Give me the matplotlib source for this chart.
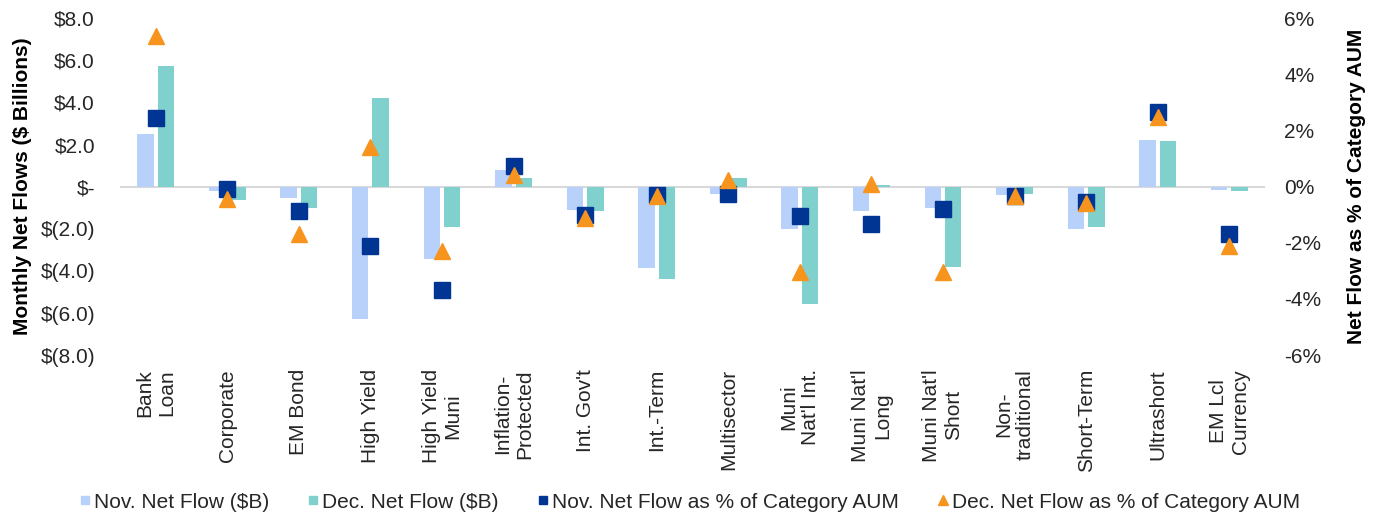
import numpy as np
import matplotlib.pyplot as plt
from matplotlib.lines import Line2D

plt.rcParams['font.family'] = ['Liberation Sans', 'DejaVu Sans']

# Categories and values
categories = ["Bank\nLoan", "Corporate", "EM Bond", "High Yield", "High Yield\nMuni",
              "Inflation-\nProtected", "Int. Gov't", "Int.-Term", "Multisector",
              "Muni\nNat'l Int.", "Muni Nat'l\nLong", "Muni Nat'l\nShort",
              "Non-\ntraditional", "Short-Term", "Ultrashort", "EM Lcl\nCurrency"]
nov_flow = [2.5, -0.22, -0.52, -6.27, -3.42, 0.8, -1.12, -3.85, -0.33, -2.0,
            -1.18, -1.0, -0.38, -2.0, 2.2, -0.15]
dec_flow = [5.73, -0.63, -1.0, 4.2, -1.9, 0.43, -1.18, -4.4, 0.43, -5.55,
            0.08, -3.8, -0.33, -1.93, 2.15, -0.22]
nov_pct = [2.46, -0.1, -0.85, -2.1, -3.67, 0.72, -1.02, -0.3, -0.25, -1.03,
           -1.32, -0.8, -0.35, -0.55, 2.65, -1.67]
dec_pct = [5.37, -0.43, -1.68, 1.4, -2.3, 0.4, -1.12, -0.35, 0.25, -3.05,
           0.1, -3.05, -0.35, -0.6, 2.48, -2.13]

left_ticks = [8, 6, 4, 2, 0, -2, -4, -6, -8]
left_labels = ["$8.0", "$6.0", "$4.0", "$2.0", "$-", "$(2.0)", "$(4.0)", "$(6.0)", "$(8.0)"]
right_ticks = [6, 4, 2, 0, -2, -4, -6]
right_labels = ["6%", "4%", "2%", "0%", "-2%", "-4%", "-6%"]

c_nov = "#B8D1FB"
c_dec = "#80D0CD"
c_sq = "#003594"
c_tri = "#F7941D"

fig = plt.figure(figsize=(13.74, 5.17), dpi=100)
ax = fig.add_axes([0.0873, 0.313, 0.8334, 0.652])
x = np.arange(len(categories))
w = 0.23
ax.bar(x - 0.143, nov_flow, w, color=c_nov, zorder=2)
ax.bar(x + 0.143, dec_flow, w, color=c_dec, zorder=2)
ax.axhline(0, color="#D9D9D9", lw=1.5, zorder=1)
ax.set_ylim(-8, 8)
ax.set_xlim(-0.5, len(categories) - 0.5)
ax.set_yticks(left_ticks)
ax.set_yticklabels(left_labels)
ax.set_xticks(x)
ax.set_xticklabels(categories, rotation=90, va="top", ha="center", multialignment="center")
ax.tick_params(axis="both", length=0, labelsize=15, colors="#262626")
ax.tick_params(axis="y", pad=18)
ax.tick_params(axis="x", pad=10)
for s in ax.spines.values():
    s.set_visible(False)
ax.set_ylabel("Monthly Net Flows ($ Billions)", fontsize=15, fontweight="bold", labelpad=6)

ax2 = ax.twinx()
ax2.plot(x, nov_pct, "s", color=c_sq, ms=11, zorder=3)
ax2.plot(x, dec_pct, "^", color=c_tri, ms=12, zorder=4)
ax2.set_ylim(-6, 6)
ax2.set_yticks(right_ticks)
ax2.set_yticklabels(right_labels)
ax2.tick_params(axis="y", length=0, labelsize=15, colors="#262626", pad=14)
for s in ax2.spines.values():
    s.set_visible(False)
ax2.set_ylabel("Net Flow as % of Category AUM", fontsize=15, fontweight="bold", labelpad=18)

handles = [
    Line2D([], [], marker="s", ls="", color=c_nov, ms=6),
    Line2D([], [], marker="s", ls="", color=c_dec, ms=6),
    Line2D([], [], marker="s", ls="", color=c_sq, ms=6),
    Line2D([], [], marker="^", ls="", color=c_tri, ms=7),
]
labels = ["Nov. Net Flow ($B)", "Dec. Net Flow ($B)",
          "Nov. Net Flow as % of Category AUM", "Dec. Net Flow as % of Category AUM"]
fig.legend(handles, labels, loc="center", bbox_to_anchor=(0.502, 0.029), ncol=4,
           frameon=False, fontsize=15, handlelength=0.5, handletextpad=0.2,
           columnspacing=1.85, labelcolor="#262626", borderpad=0)

fig.savefig("out.png", dpi=100)
